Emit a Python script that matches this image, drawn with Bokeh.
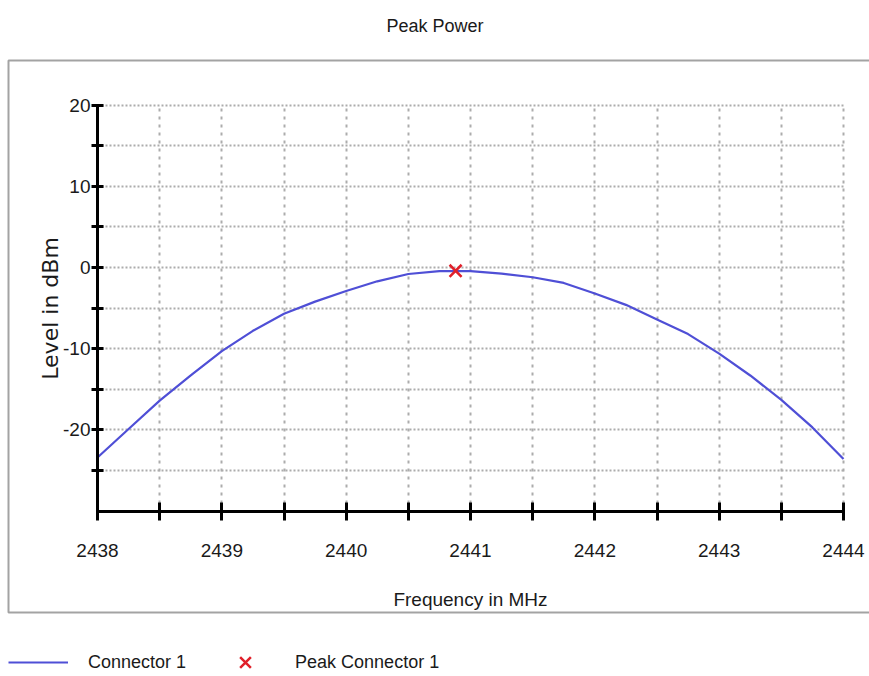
from bokeh.plotting import figure
from bokeh.models import (Range1d, LinearAxis, FixedTicker, Grid, Legend, LegendItem,
                          BoxAnnotation)
from bokeh.embed import file_html
from bokeh.resources import INLINE

# ---- data ----
freq = [2438.00, 2438.25, 2438.50, 2438.75, 2439.00, 2439.25, 2439.50, 2439.75,
        2440.00, 2440.25, 2440.50, 2440.75, 2441.00, 2441.25, 2441.50, 2441.75,
        2442.00, 2442.25, 2442.50, 2442.75, 2443.00, 2443.25, 2443.50, 2443.75,
        2444.00]
level = [-23.4, -19.9, -16.4, -13.3, -10.3, -7.8, -5.7, -4.2,
         -2.9, -1.7, -0.8, -0.45, -0.45, -0.75, -1.2, -1.9,
         -3.2, -4.6, -6.4, -8.2, -10.6, -13.3, -16.3, -19.7,
         -23.6]
peak_freq = [2440.88]
peak_level = [-0.4]

x_major = [2438, 2439, 2440, 2441, 2442, 2443, 2444]
x_minor = [2438.5, 2439.5, 2440.5, 2441.5, 2442.5, 2443.5]
y_major = [-20, -10, 0, 10, 20]
y_major_text = ["-20", "-10", "0", "10", "20"]
y_minor = [-25, -15, -5, 5, 15]
x_bounds = (2438, 2444)
y_bounds = (-30, 20)

title_text = "Peak Power"
x_label = "Frequency in MHz"
y_label = "Level in dBm"
series_label = "Connector 1"
peak_label = "Peak Connector 1"

FONT = "Liberation Sans"
TXT = "#1a1a1a"
GRID = "#acacac"

p = figure(width=869, height=676, output_backend="svg", toolbar_location=None,
           x_range=Range1d(2437.2198, 2444.2091), y_range=Range1d(-50.38, 26.977),
           x_axis_location=None, y_axis_location=None,
           min_border_left=0, min_border_right=0, min_border_top=48, min_border_bottom=0)
p.center = [c for c in p.center if not isinstance(c, Grid)]
p.background_fill_color = "white"
p.border_fill_color = "white"
p.outline_line_color = None

p.title.text = title_text
p.title.align = "center"
p.title.offset = 4
p.title.text_font = FONT
p.title.text_font_size = "18px"
p.title.text_font_style = "normal"
p.title.text_color = TXT
p.title.standoff = 26

# the grey frame around the chart area
p.add_layout(BoxAnnotation(left=2437.2842, right=2444.5, top=25.5, bottom=-42.5,
                           fill_color=None, fill_alpha=0,
                           line_color="#a3a3a3", line_alpha=1.0, line_width=2,
                           level="underlay"))

# grids
xgrid = Grid(dimension=0, ticker=FixedTicker(ticks=x_major, minor_ticks=x_minor),
             grid_line_color=GRID, grid_line_width=2, grid_line_dash="3 5",
             minor_grid_line_color=GRID, minor_grid_line_width=2,
             minor_grid_line_dash="3 5", cross_bounds=y_bounds)
ygrid = Grid(dimension=1, ticker=FixedTicker(ticks=y_major, minor_ticks=y_minor),
             grid_line_color=GRID, grid_line_width=2, grid_line_dash="2 2",
             minor_grid_line_color=GRID, minor_grid_line_width=2,
             minor_grid_line_dash="2 2", cross_bounds=x_bounds)
p.add_layout(xgrid, "center")
p.add_layout(ygrid, "center")

# axes
xaxis = LinearAxis(fixed_location=y_bounds[0], bounds=x_bounds,
                   ticker=FixedTicker(ticks=x_major, minor_ticks=x_minor),
                   axis_label=x_label,
                   axis_line_width=3, axis_line_color="black",
                   major_tick_in=9, major_tick_out=9, minor_tick_in=9, minor_tick_out=9,
                   major_tick_line_width=3, minor_tick_line_width=3,
                   major_label_standoff=24, axis_label_standoff=28,
                   major_label_text_font=FONT, major_label_text_font_size="19px",
                   major_label_text_color=TXT,
                   axis_label_text_font=FONT, axis_label_text_font_size="19px",
                   axis_label_text_font_style="normal", axis_label_text_color=TXT)
yaxis = LinearAxis(fixed_location=x_bounds[0], bounds=y_bounds,
                   ticker=FixedTicker(ticks=y_major, minor_ticks=y_minor),
                   major_label_overrides=dict(zip(y_major, y_major_text)),
                   axis_label=y_label,
                   axis_line_width=3, axis_line_color="black",
                   major_tick_in=6, major_tick_out=6, minor_tick_in=6, minor_tick_out=6,
                   major_tick_line_width=3, minor_tick_line_width=3,
                   major_label_standoff=1, axis_label_standoff=-3,
                   major_label_text_font=FONT, major_label_text_font_size="19px",
                   major_label_text_color=TXT,
                   axis_label_text_font="DejaVu Sans", axis_label_text_font_size="22px",
                   axis_label_text_font_style="normal", axis_label_text_color=TXT)
p.add_layout(xaxis, "below")
p.add_layout(yaxis, "left")

line_r = p.line(freq, level, line_color="#4f4fd6", line_width=2.2)
peak_r = p.scatter(peak_freq, peak_level, marker="x", size=17, line_color="#e0202a",
                   line_width=2.5)

legend = Legend(items=[LegendItem(label=series_label, renderers=[line_r]),
                       LegendItem(label=peak_label, renderers=[peak_r])],
                orientation="horizontal", location=(8, -5), margin=0, padding=0,
                glyph_width=60, glyph_height=38, label_standoff=20, spacing=29,
                label_text_font=FONT, label_text_font_size="18px",
                label_text_color=TXT, border_line_color=None,
                background_fill_alpha=0)
p.add_layout(legend, "center")

open("out.html", "w").write(file_html(p, INLINE))
